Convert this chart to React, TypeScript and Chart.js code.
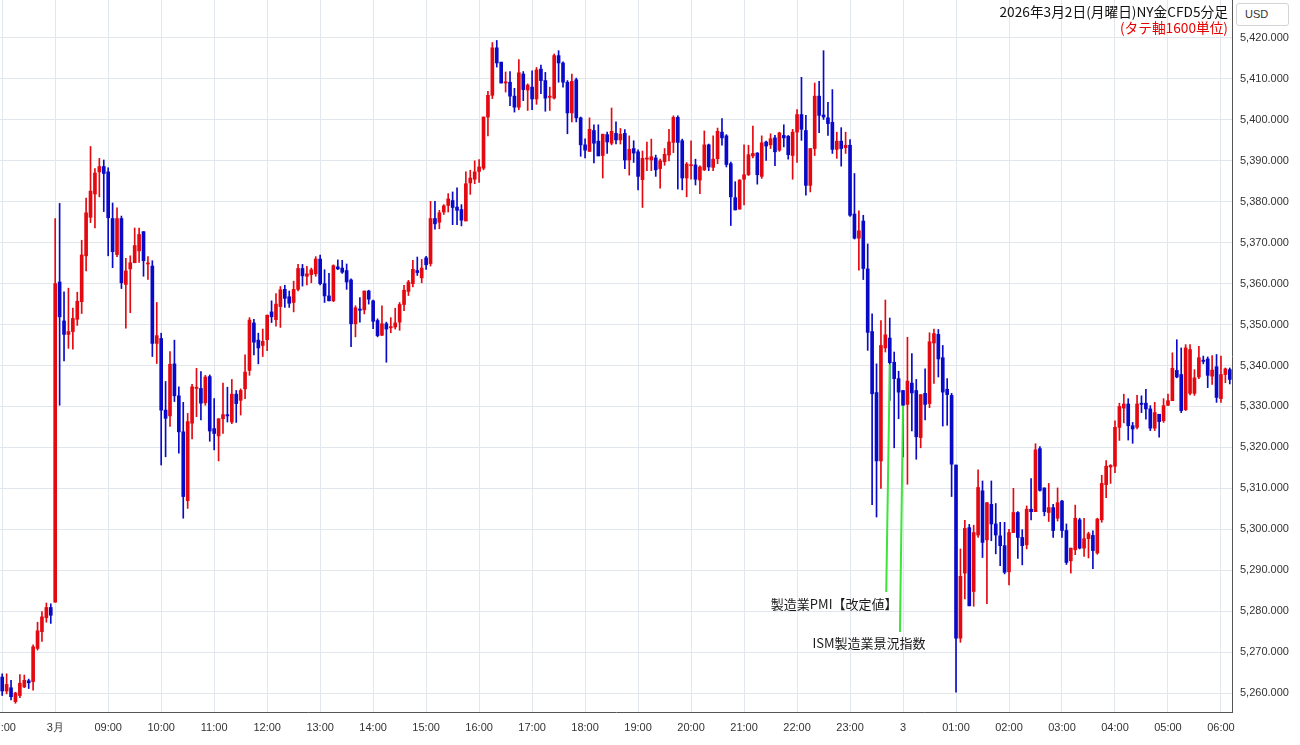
import React, { useEffect, useRef } from 'react';
import { Chart, registerables } from 'chart.js';

Chart.register(...registerables);

// ---- categories: 5-minute candles starting 07:00 ----
const START_MINUTES = 7 * 60;
const CANDLE_COUNT = 279;
const times: string[] = [];
for (let i = 0; i < CANDLE_COUNT; i++) {
  const m = START_MINUTES + i * 5;
  const h = Math.floor(m / 60) % 24;
  const mm = m % 60;
  times.push(`${String(h).padStart(2, '0')}:${String(mm).padStart(2, '0')}`);
}
// day labels replacing hour labels
const dayLabelIndex = [12, 204];
const dayLabelText = ['3月', '3'];

// ---- OHLC series ----
const openP = [
  5263.9, 5260.5, 5261.3, 5257.9, 5259.4, 5261.5, 5263.0, 5262.8, 5270.9, 5275.0, 5278.4, 5280.9,
  5282.2, 5360.4, 5350.9, 5347.6, 5348.3, 5351.3, 5355.6, 5366.8, 5376.2, 5381.9, 5387.3, 5388.6,
  5387.3, 5375.9, 5367.1, 5375.9, 5359.8, 5363.6, 5365.1, 5368.0, 5372.7, 5364.8, 5364.3, 5345.4,
  5346.6, 5329.1, 5327.7, 5340.4, 5332.6, 5323.8, 5307.0, 5325.9, 5334.4, 5334.4, 5330.9, 5337.3,
  5324.6, 5322.8, 5327.0, 5328.0, 5326.2, 5333.0, 5331.5, 5334.3, 5338.8, 5350.4, 5346.2, 5344.9,
  5346.3, 5353.1, 5351.2, 5354.4, 5358.6, 5356.8, 5355.4, 5358.6, 5363.7, 5361.8, 5362.2, 5362.4,
  5366.0, 5360.0, 5357.0, 5355.8, 5364.1, 5363.8, 5363.2, 5360.9, 5350.2, 5353.8, 5353.6, 5358.2,
  5355.8, 5351.0, 5347.4, 5350.2, 5349.2, 5349.4, 5350.6, 5354.9, 5358.1, 5360.0, 5363.2, 5361.4,
  5366.3, 5364.9, 5375.9, 5375.0, 5377.5, 5379.1, 5380.3, 5378.7, 5378.1, 5375.3, 5384.6, 5385.5,
  5387.4, 5388.2, 5400.7, 5406.0, 5417.6, 5414.1, 5409.0, 5409.2, 5405.8, 5403.1, 5411.2, 5407.3,
  5408.0, 5405.1, 5412.4, 5409.6, 5405.5, 5405.3, 5415.7, 5413.9, 5409.2, 5401.7, 5409.8, 5400.5,
  5393.9, 5392.3, 5397.4, 5394.8, 5391.3, 5396.4, 5394.3, 5396.7, 5395.1, 5396.7, 5390.2, 5393.0,
  5392.2, 5385.4, 5390.4, 5390.2, 5390.7, 5388.1, 5389.8, 5391.4, 5394.5, 5400.6, 5394.9, 5385.8,
  5388.8, 5389.0, 5385.3, 5387.8, 5393.9, 5388.4, 5390.5, 5397.0, 5396.1, 5389.3, 5381.0, 5378.2,
  5385.5, 5386.6, 5391.2, 5391.9, 5386.2, 5394.6, 5393.9, 5395.6, 5392.6, 5396.2, 5396.0, 5391.3,
  5397.0, 5401.3, 5397.4, 5384.0, 5393.0, 5405.8, 5401.2, 5400.5, 5399.4, 5392.8, 5394.8, 5393.2,
  5393.8, 5377.0, 5371.1, 5375.3, 5363.6, 5348.3, 5333.4, 5316.7, 5344.3, 5346.7, 5340.8, 5336.8,
  5333.9, 5330.5, 5335.7, 5333.9, 5322.4, 5333.2, 5330.7, 5345.5, 5347.6, 5341.9, 5334.2, 5332.7,
  5315.7, 5273.4, 5289.3, 5300.4, 5284.8, 5298.6, 5309.4, 5297.4, 5306.1, 5301.3, 5298.4, 5296.0,
  5289.6, 5299.2, 5304.1, 5298.0, 5296.2, 5304.9, 5304.3, 5319.7, 5310.1, 5304.1, 5305.3, 5302.7,
  5306.9, 5299.7, 5292.3, 5295.0, 5302.3, 5295.4, 5297.7, 5298.5, 5294.2, 5302.3, 5310.9, 5315.2,
  5315.4, 5324.9, 5329.6, 5330.6, 5325.3, 5324.9, 5330.8, 5330.8, 5329.4, 5324.7, 5328.1, 5326.5,
  5330.3, 5331.4, 5338.8, 5337.8, 5329.2, 5333.2, 5333.2, 5337.2, 5341.3, 5341.6, 5337.4, 5339.7,
  5331.9, 5337.8, 5339.0,
];
const highP = [
  5264.7, 5264.7, 5263.1, 5260.2, 5264.5, 5264.4, 5263.4, 5271.8, 5277.3, 5279.9, 5282.0, 5281.8,
  5375.9, 5379.6, 5358.0, 5358.9, 5354.0, 5357.9, 5370.6, 5380.9, 5393.5, 5388.1, 5390.6, 5390.2,
  5388.3, 5379.7, 5378.5, 5376.5, 5366.2, 5366.8, 5373.6, 5373.6, 5372.7, 5366.6, 5365.6, 5355.4,
  5347.9, 5336.1, 5343.4, 5346.2, 5334.8, 5331.0, 5328.3, 5335.4, 5339.3, 5338.5, 5337.6, 5337.7,
  5331.9, 5327.0, 5335.7, 5334.7, 5336.6, 5333.9, 5334.3, 5342.6, 5351.7, 5351.3, 5347.9, 5348.9,
  5352.3, 5355.8, 5357.6, 5359.3, 5359.6, 5358.2, 5360.6, 5364.7, 5364.7, 5364.2, 5363.8, 5366.6,
  5367.0, 5363.4, 5362.5, 5364.6, 5365.8, 5365.7, 5364.8, 5361.2, 5354.6, 5356.6, 5358.2, 5358.4,
  5356.0, 5351.4, 5354.6, 5350.6, 5351.7, 5354.0, 5355.4, 5359.6, 5360.8, 5365.7, 5366.5, 5365.9,
  5366.7, 5380.1, 5380.1, 5377.9, 5379.3, 5382.0, 5382.4, 5383.4, 5379.3, 5387.3, 5387.7, 5390.0,
  5390.3, 5400.7, 5407.0, 5418.9, 5419.4, 5414.1, 5411.7, 5411.8, 5407.7, 5414.7, 5411.8, 5408.8,
  5412.0, 5412.8, 5413.4, 5411.6, 5408.0, 5416.1, 5416.9, 5414.2, 5409.6, 5411.2, 5410.2, 5400.7,
  5395.4, 5400.5, 5398.8, 5398.8, 5396.5, 5397.0, 5402.9, 5399.5, 5397.9, 5397.6, 5396.1, 5394.9,
  5392.7, 5392.4, 5394.6, 5395.3, 5391.4, 5390.4, 5393.0, 5397.7, 5401.0, 5401.0, 5395.3, 5389.6,
  5394.9, 5390.4, 5388.8, 5397.3, 5394.1, 5396.1, 5398.0, 5400.3, 5396.4, 5389.7, 5384.9, 5385.4,
  5393.9, 5393.8, 5398.5, 5392.0, 5396.1, 5394.8, 5396.6, 5396.2, 5397.0, 5398.8, 5396.2, 5397.7,
  5402.5, 5410.4, 5401.1, 5393.0, 5409.0, 5409.4, 5416.9, 5404.3, 5407.4, 5397.0, 5398.1, 5397.0,
  5395.2, 5386.9, 5377.8, 5376.7, 5369.7, 5352.6, 5340.4, 5351.0, 5356.0, 5351.6, 5343.3, 5338.6,
  5333.9, 5346.9, 5342.9, 5336.6, 5332.9, 5339.2, 5348.0, 5348.9, 5348.8, 5344.9, 5336.8, 5333.2,
  5315.7, 5295.2, 5302.2, 5301.2, 5301.0, 5314.5, 5311.8, 5306.5, 5311.8, 5306.3, 5301.7, 5301.7,
  5300.0, 5310.0, 5304.3, 5299.9, 5305.7, 5312.4, 5320.9, 5320.2, 5310.1, 5311.2, 5306.1, 5310.1,
  5307.1, 5301.3, 5295.4, 5305.9, 5302.7, 5302.7, 5299.3, 5299.6, 5302.7, 5313.2, 5316.8, 5315.8,
  5326.5, 5330.8, 5333.0, 5331.9, 5326.1, 5332.7, 5332.6, 5334.2, 5330.2, 5331.0, 5328.1, 5331.9,
  5333.0, 5343.1, 5346.3, 5344.3, 5345.1, 5345.1, 5339.0, 5344.7, 5342.3, 5342.1, 5342.4, 5342.7,
  5342.3, 5339.4, 5339.4,
];
const lowP = [
  5259.4, 5259.8, 5258.3, 5257.5, 5258.9, 5261.3, 5261.1, 5260.7, 5270.5, 5272.6, 5277.3, 5277.0,
  5282.2, 5330.3, 5341.1, 5344.2, 5344.0, 5349.8, 5352.7, 5363.1, 5374.9, 5373.6, 5381.2, 5377.6,
  5366.8, 5363.9, 5366.6, 5358.8, 5349.1, 5352.9, 5365.1, 5365.2, 5361.8, 5361.0, 5342.2, 5340.5,
  5315.7, 5317.7, 5325.1, 5331.2, 5318.6, 5302.7, 5305.1, 5322.1, 5327.5, 5326.7, 5330.3, 5321.5,
  5319.4, 5316.7, 5323.4, 5326.2, 5325.8, 5326.1, 5327.9, 5331.9, 5337.6, 5342.6, 5340.4, 5342.2,
  5343.6, 5350.5, 5349.6, 5349.3, 5354.2, 5354.2, 5353.1, 5358.2, 5359.4, 5359.7, 5360.2, 5361.8,
  5359.7, 5355.4, 5355.8, 5355.6, 5363.4, 5362.5, 5358.6, 5344.6, 5347.0, 5350.6, 5352.6, 5355.0,
  5349.0, 5347.0, 5347.3, 5340.8, 5348.0, 5348.9, 5348.6, 5353.4, 5357.1, 5359.2, 5362.0, 5360.2,
  5363.5, 5364.3, 5373.3, 5373.4, 5376.9, 5377.5, 5374.4, 5374.4, 5374.1, 5375.3, 5381.8, 5384.4,
  5384.7, 5387.8, 5396.1, 5405.2, 5412.9, 5409.0, 5406.8, 5403.5, 5401.9, 5402.5, 5404.7, 5402.3,
  5402.5, 5403.8, 5406.4, 5402.1, 5402.3, 5405.1, 5409.2, 5408.0, 5396.6, 5399.5, 5399.5, 5391.1,
  5390.7, 5392.3, 5389.5, 5391.2, 5385.8, 5391.8, 5393.9, 5394.1, 5394.1, 5388.1, 5386.5, 5389.6,
  5382.9, 5378.6, 5387.6, 5387.6, 5386.2, 5383.3, 5388.9, 5390.0, 5392.0, 5383.1, 5382.9, 5381.2,
  5385.5, 5384.1, 5382.0, 5387.6, 5387.6, 5387.6, 5389.3, 5393.8, 5388.5, 5374.2, 5378.0, 5378.2,
  5379.2, 5386.4, 5390.7, 5384.3, 5385.7, 5390.1, 5393.0, 5388.8, 5392.3, 5393.4, 5390.4, 5385.5,
  5389.6, 5395.0, 5381.6, 5382.4, 5391.3, 5396.9, 5400.1, 5396.2, 5391.8, 5390.6, 5388.7, 5391.8,
  5376.4, 5370.9, 5363.3, 5361.0, 5343.7, 5306.0, 5303.0, 5310.0, 5343.3, 5331.5, 5319.9, 5327.0,
  5317.7, 5311.0, 5324.0, 5317.1, 5319.9, 5326.7, 5329.7, 5335.6, 5337.2, 5325.2, 5325.4, 5308.0,
  5260.2, 5272.4, 5283.0, 5281.3, 5281.2, 5298.0, 5293.1, 5281.8, 5297.2, 5294.0, 5291.1, 5289.1,
  5286.4, 5299.2, 5292.9, 5291.3, 5295.2, 5302.3, 5304.3, 5309.3, 5303.3, 5301.9, 5298.0, 5302.0,
  5298.0, 5291.4, 5289.3, 5293.8, 5295.2, 5293.4, 5293.0, 5290.4, 5293.9, 5301.7, 5307.7, 5311.2,
  5313.8, 5321.7, 5326.0, 5321.8, 5321.0, 5324.5, 5328.5, 5326.9, 5324.1, 5324.1, 5322.5, 5326.1,
  5330.2, 5331.4, 5337.0, 5328.5, 5329.0, 5332.8, 5332.7, 5336.8, 5340.4, 5334.6, 5335.4, 5331.0,
  5331.0, 5335.8, 5335.5,
];
const closeP = [
  5260.5, 5262.1, 5259.1, 5260.0, 5262.4, 5263.1, 5262.5, 5271.3, 5275.2, 5278.6, 5280.9, 5279.0,
  5360.0, 5351.9, 5347.6, 5348.3, 5351.5, 5355.7, 5367.0, 5377.3, 5382.6, 5387.0, 5388.6, 5386.9,
  5376.1, 5367.8, 5375.9, 5360.2, 5363.1, 5365.1, 5369.3, 5372.0, 5365.6, 5365.0, 5345.4, 5347.3,
  5329.1, 5327.1, 5340.3, 5332.6, 5323.8, 5308.0, 5326.3, 5334.8, 5334.7, 5330.8, 5337.2, 5324.0,
  5323.4, 5327.0, 5328.0, 5327.7, 5333.0, 5330.7, 5333.9, 5338.4, 5351.1, 5345.7, 5344.3, 5345.9,
  5352.3, 5351.9, 5355.0, 5358.5, 5356.4, 5355.2, 5358.6, 5363.7, 5361.9, 5362.4, 5363.4, 5366.0,
  5360.0, 5357.0, 5355.8, 5364.4, 5363.6, 5362.8, 5360.4, 5350.2, 5354.1, 5353.5, 5358.2, 5356.2,
  5350.8, 5347.3, 5350.2, 5348.9, 5349.5, 5350.4, 5354.9, 5358.4, 5360.4, 5363.5, 5362.7, 5363.8,
  5364.6, 5375.9, 5374.6, 5377.3, 5379.0, 5380.7, 5378.6, 5377.9, 5375.5, 5384.4, 5385.8, 5387.3,
  5388.5, 5400.7, 5406.0, 5417.6, 5413.9, 5409.0, 5409.3, 5405.8, 5403.1, 5411.5, 5407.4, 5408.5,
  5405.1, 5412.2, 5409.6, 5405.3, 5405.8, 5415.7, 5413.9, 5409.2, 5401.7, 5409.4, 5400.5, 5393.9,
  5392.6, 5397.7, 5394.3, 5391.2, 5396.5, 5394.6, 5397.2, 5395.1, 5396.5, 5390.2, 5392.8, 5391.9,
  5386.2, 5390.6, 5390.7, 5391.0, 5387.8, 5390.0, 5391.6, 5394.6, 5400.6, 5394.5, 5385.8, 5389.2,
  5389.0, 5385.5, 5388.5, 5393.9, 5388.5, 5390.4, 5397.2, 5395.6, 5389.1, 5381.2, 5378.0, 5385.3,
  5386.6, 5391.5, 5391.8, 5386.6, 5394.4, 5393.6, 5395.4, 5392.2, 5396.8, 5395.6, 5391.5, 5397.0,
  5401.3, 5397.7, 5384.0, 5393.0, 5405.8, 5401.1, 5400.7, 5399.1, 5392.8, 5394.8, 5393.0, 5393.8,
  5376.7, 5371.1, 5372.9, 5363.7, 5348.1, 5333.1, 5316.7, 5344.9, 5347.5, 5340.7, 5336.8, 5333.5,
  5330.3, 5336.2, 5333.3, 5322.6, 5332.9, 5330.5, 5345.8, 5347.8, 5341.6, 5333.5, 5332.9, 5315.9,
  5273.4, 5288.5, 5300.2, 5281.3, 5299.2, 5310.2, 5296.8, 5306.5, 5301.3, 5298.6, 5296.0, 5289.5,
  5299.2, 5304.1, 5298.0, 5296.0, 5304.9, 5304.3, 5319.4, 5309.5, 5304.3, 5305.3, 5299.7, 5306.5,
  5299.7, 5291.9, 5295.4, 5302.7, 5295.4, 5297.7, 5298.9, 5294.8, 5302.5, 5311.2, 5315.4, 5315.6,
  5324.9, 5330.0, 5330.6, 5325.3, 5324.5, 5330.6, 5330.5, 5329.4, 5324.7, 5328.5, 5326.3, 5330.2,
  5331.4, 5339.3, 5337.2, 5329.0, 5344.3, 5343.9, 5337.0, 5341.9, 5341.0, 5337.6, 5338.9, 5332.2,
  5337.8, 5339.2, 5336.6,
];

// ---- axis ----
const Y_MIN = 5255.37;
const Y_MAX = 5429.28;
const Y_STEP = 10;

// ---- annotations (candle index / price) ----
const annoText = ['製造業PMI【改定値】', 'ISM製造業景況指数'];
const annoFromIdx = [201, 204];
const annoFromPrice = [5340.3, 5330.2];
const annoToIdx = [200.2, 203.3];
const annoToPrice = [5284.7, 5274.9];
const annoTextIdx = [188.4, 196.3];
const annoTextPrice = [5281.7, 5272.2];

const UP = 'rgb(228,8,16)';
const DOWN = 'rgb(8,10,200)';

const annoPlugin = {
  id: 'eventAnno',
  afterDatasetsDraw(chart: any) {
    const { ctx } = chart;
    const x = chart.scales.x;
    const y = chart.scales.y;
    ctx.save();
    for (let k = 0; k < annoText.length; k++) {
      ctx.strokeStyle = 'rgb(60,228,60)';
      ctx.lineWidth = 2;
      ctx.beginPath();
      ctx.moveTo(x.getPixelForValue(annoFromIdx[k]), y.getPixelForValue(annoFromPrice[k]));
      ctx.lineTo(x.getPixelForValue(annoToIdx[k]), y.getPixelForValue(annoToPrice[k]));
      ctx.stroke();
      ctx.fillStyle = '#1a1a1a';
      ctx.font = '13px "Noto Sans CJK JP", sans-serif';
      ctx.textAlign = 'center';
      ctx.textBaseline = 'middle';
      ctx.fillText(annoText[k], x.getPixelForValue(annoTextIdx[k]), y.getPixelForValue(annoTextPrice[k]));
    }
    ctx.restore();
  },
};

export default function App() {
  const ref = useRef<HTMLCanvasElement>(null);

  useEffect(() => {
    const colors = openP.map((o, i) => (closeP[i] >= o ? UP : DOWN));
    const bodies = openP.map((o, i) => [Math.min(o, closeP[i]), Math.max(o, closeP[i])]);
    const wicks = lowP.map((l, i) => [l, highP[i]]);

    const chart = new Chart(ref.current as HTMLCanvasElement, {
      type: 'bar',
      data: {
        labels: times,
        datasets: [
          {
            data: bodies as any,
            backgroundColor: colors,
            borderWidth: 0,
            barThickness: 3,
            minBarLength: 1,
            grouped: false,
          } as any,
          {
            data: wicks as any,
            backgroundColor: colors,
            borderWidth: 0,
            barThickness: 1,
            minBarLength: 1,
            grouped: false,
          } as any,
        ],
      },
      options: {
        responsive: false,
        maintainAspectRatio: false,
        devicePixelRatio: 1,
        animation: false,
        layout: { padding: 0 },
        plugins: { legend: { display: false }, tooltip: { enabled: false } },
        scales: {
          x: {
            type: 'category',
            offset: true,
            grid: { offset: false, color: '#e2e7ed', drawTicks: false },
            border: { display: true, color: '#555' },
            ticks: {
              autoSkip: false,
              maxRotation: 0,
              minRotation: 0,
              padding: 9,
              color: '#333',
              font: { size: 11, family: '"Liberation Sans", Arial, sans-serif' },
              callback: (_v: any, index: number) => {
                const t = times[index];
                if (!t || !t.endsWith(':00')) return null;
                const d = dayLabelIndex.indexOf(index);
                return d >= 0 ? dayLabelText[d] : t;
              },
            },
            afterFit: (s: any) => {
              s.height = 33;
              s.paddingLeft = 0;
              s.paddingRight = 0;
            },
          },
          y: {
            type: 'linear',
            position: 'right',
            min: Y_MIN,
            max: Y_MAX,
            grid: { color: '#e2e7ed', drawTicks: false },
            border: { display: true, color: '#555' },
            ticks: {
              stepSize: Y_STEP,
              padding: 8,
              color: '#333',
              font: { size: 11, family: '"Liberation Sans", Arial, sans-serif' },
              callback: (v: any) => {
                const n = Number(v);
                if (Math.abs(n - Math.round(n / Y_STEP) * Y_STEP) > 1e-6) return null;
                return n.toLocaleString('en-US', { minimumFractionDigits: 3, maximumFractionDigits: 3 });
              },
            },
            afterFit: (s: any) => {
              s.width = 68;
              s.paddingTop = 0;
              s.paddingBottom = 0;
            },
          },
        },
      } as any,
      plugins: [annoPlugin],
    });
    return () => chart.destroy();
  }, []);

  return (
    <div style={{ position: 'fixed', left: 0, top: 0, width: 1300, height: 745, background: '#fff', overflow: 'hidden' }}>
      <canvas ref={ref} width={1300} height={745} style={{ display: 'block', width: 1300, height: 745 }} />
      <div
        style={{
          position: 'absolute',
          right: 72,
          top: 3,
          textAlign: 'right',
          fontFamily: '"Noto Sans CJK JP", sans-serif',
          fontSize: 13.7,
          lineHeight: '16px',
          whiteSpace: 'nowrap',
        }}
      >
        <div style={{ color: '#111' }}>2026年3月2日(月曜日)NY金CFD5分足</div>
        <div style={{ color: 'rgb(230,0,0)' }}>(タテ軸1600単位)</div>
      </div>
      <div
        style={{
          position: 'absolute',
          left: 1236,
          top: 3,
          width: 53,
          height: 23,
          boxSizing: 'border-box',
          border: '1px solid #d4d4d4',
          borderRadius: 3,
          fontFamily: '"Liberation Sans", Arial, sans-serif',
          fontSize: 11,
          lineHeight: '21px',
          paddingLeft: 8,
          color: '#333',
          background: '#fff',
        }}
      >
        USD
      </div>
    </div>
  );
}
